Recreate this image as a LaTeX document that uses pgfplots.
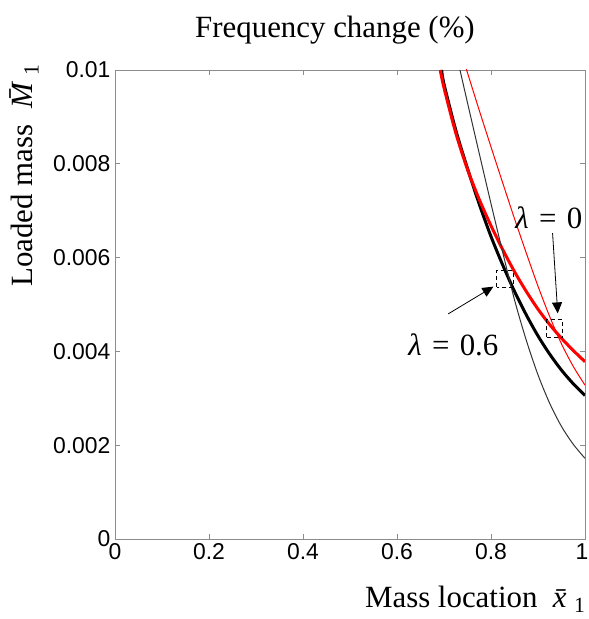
\documentclass[border=0pt]{standalone}
\usepackage{pgfplots}
\pgfplotsset{compat=1.18}
\usepackage{fontspec}
\setmainfont{Liberation Serif}
\newfontfamily\arial{Liberation Sans}
\usetikzlibrary{arrows.meta}
\newcommand{\bigtxt}{\fontsize{31}{36}\selectfont}
\begin{document}
\begin{tikzpicture}
\useasboundingbox (-115bp,-80bp) rectangle (474bp,539bp);
\begin{axis}[
  at={(0,0)}, anchor=south west,
  scale only axis, width=470bp, height=469bp,
  xmin=0, xmax=1, ymin=0, ymax=0.01,
  axis line style={black!45, line width=0.8bp},
  tick style={black!45, line width=0.8bp},
  major tick length=5bp, tick align=inside,
  xtick={0,0.2,0.4,0.6,0.8},
  xticklabels={0,0.2,0.4,0.6,0.8},
  extra x ticks={1},
  extra x tick labels={1},
  extra x tick style={xticklabel style={xshift=-3bp}},
  ytick={0,0.002,0.004,0.006,0.008,0.01},
  yticklabels={0,0.002,0.004,0.006,0.008,0.01},
  scaled y ticks=false, scaled x ticks=false,
  /pgf/number format/assume math mode=true,
  ticklabel style={font=\arial\fontsize{23}{26}\selectfont, text=black},
  xticklabel style={yshift=-1bp},
  yticklabel style={xshift=-1bp},
  clip=true,
]
% thick black (lambda = 0.6)
\addplot[black, line width=3bp, smooth] coordinates {
 (0.695,0.0100) (0.70,0.00970) (0.725,0.00872) (0.75,0.00790) (0.775,0.00714)
 (0.80,0.00645) (0.825,0.00584) (0.85,0.00528) (0.875,0.00478) (0.90,0.00433)
 (0.925,0.00394) (0.95,0.00360) (0.975,0.00331) (1.0,0.00306)};
% thick red (lambda = 0)
\addplot[red, line width=3bp, smooth] coordinates {
 (0.692,0.0100) (0.70,0.00962) (0.725,0.00866) (0.75,0.00788) (0.775,0.00724)
 (0.80,0.00668) (0.825,0.00617) (0.85,0.00570) (0.875,0.00528) (0.90,0.00490)
 (0.925,0.00457) (0.95,0.00428) (0.975,0.00402) (1.0,0.00378)};
% thin black
\addplot[black!80, line width=1bp, smooth] coordinates {
 (0.734,0.0100) (0.75,0.00930) (0.775,0.00822) (0.80,0.00715) (0.825,0.00611)
 (0.85,0.00510) (0.875,0.00424) (0.90,0.00350) (0.925,0.00289) (0.95,0.00240)
 (0.975,0.00202) (1.0,0.00172)};
% thin red
\addplot[red, line width=1bp, smooth] coordinates {
 (0.748,0.0100) (0.75,0.00994) (0.775,0.00914) (0.80,0.00836) (0.825,0.00759)
 (0.85,0.00683) (0.875,0.00610) (0.90,0.00539) (0.925,0.00474) (0.95,0.00416)
 (0.975,0.00368) (1.0,0.00328)};
% annotations
\draw[black, line width=1bp, dash pattern=on 4bp off 3bp] (axis cs:0.812,0.00537) rectangle (axis cs:0.847,0.00572);
\draw[black, line width=1bp, dash pattern=on 4bp off 3bp] (axis cs:0.919,0.00430) rectangle (axis cs:0.953,0.00467);
\draw[black, line width=0.8bp, -{Triangle[length=11bp,width=10bp]}] (axis cs:0.931,0.00652) -- (axis cs:0.942,0.00481);
\draw[black, line width=0.8bp, -{Triangle[length=11bp,width=10bp]}] (axis cs:0.709,0.00480) -- (axis cs:0.805,0.00538);
\node[font=\bigtxt] at (axis cs:0.923,0.00684) {\textit{λ}\,\,=\,\,0};
\node[font=\bigtxt] at (axis cs:0.720,0.00414) {\textit{λ}\,\,=\,\,0.6};
\end{axis}
\node[font=\bigtxt, anchor=base] at (220bp,501bp) {Frequency change (\%)};
\node[font=\bigtxt, anchor=base east] at (474bp,-68bp) {Mass location\ \ \textit{\=x}\textsubscript{1}};
\node[font=\bigtxt, anchor=base west, rotate=90] at (-82bp,249bp) {Loaded mass\ \ \textit{\=M}\textsubscript{1}};
\end{tikzpicture}
\end{document}
